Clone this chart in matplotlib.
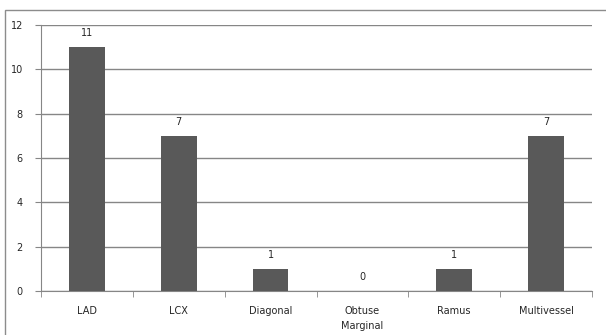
import matplotlib.pyplot as plt
from matplotlib.patches import Rectangle

categories = ['LAD', 'LCX', 'Diagonal', 'Obtuse\nMarginal', 'Ramus', 'Multivessel']
counts = [11, 7, 1, 0, 1, 7]
y_ticks = [0, 2, 4, 6, 8, 10, 12]

plt.rcParams['font.family'] = ['DejaVu Sans']

W, H = 606, 335
fig = plt.figure(figsize=(W / 100, H / 100), dpi=100)
ax = fig.add_axes([41 / W, 1 - 291 / H, (592 - 41) / W, (291 - 25) / H])

# outer chart border (top and left visible)
fig.patches.append(Rectangle((5 / W, -0.1), 1.2, 1 - 10 / H + 0.1, transform=fig.transFigure,
                             fill=False, edgecolor='#8c8c8c', linewidth=1.0))

x = list(range(len(categories)))
ax.bar(x, counts, width=0.39, color='#595959', zorder=3)
for xi, v in zip(x, counts):
    ax.text(xi, v + 0.42, str(v), ha='center', va='bottom', fontsize=7, color='#262626')

ax.set_xlim(-0.5, len(categories) - 0.5)
ax.set_ylim(0, 12)
ax.set_yticks(y_ticks)
ax.set_yticklabels([str(t) for t in y_ticks], fontsize=7, color='#262626')
ax.yaxis.grid(True, color='#868686', linewidth=1.0, zorder=0)

ax.set_xticks(x)
ax.set_xticklabels(categories, fontsize=7, color='#262626', linespacing=1.6)
ax.tick_params(axis='x', length=0, pad=11)
# category boundary tick marks
ax.set_xticks([i - 0.5 for i in range(len(categories) + 1)], minor=True)
ax.tick_params(axis='x', which='minor', length=4, color='#868686', direction='out')
ax.tick_params(axis='y', length=4, color='#868686', pad=9)

for s in ['top', 'right']:
    ax.spines[s].set_visible(False)
ax.spines['left'].set_color('#868686')
ax.spines['bottom'].set_color('#868686')

fig.savefig('out.png', dpi=100)
